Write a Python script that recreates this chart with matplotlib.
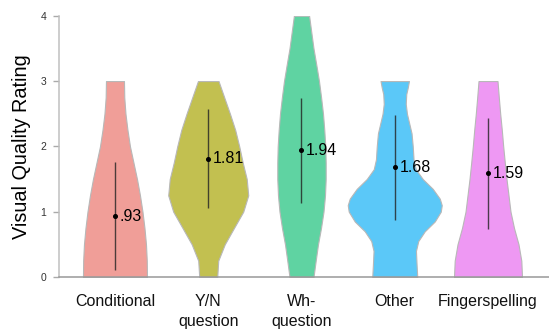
import numpy as np
import matplotlib
matplotlib.use("Agg")
import matplotlib.pyplot as plt

plt.rcParams['font.family'] = ['Liberation Sans', 'DejaVu Sans']

# Categories, means and standard deviations of the ratings
categories = ["Conditional", "Y/N\nquestion", "Wh-\nquestion", "Other", "Fingerspelling"]
means = [0.93, 1.81, 1.94, 1.68, 1.59]
sds = [0.83, 0.76, 0.80, 0.80, 0.85]
colors = ["#F09E98", "#C2C050", "#5FD3A2", "#5BC8F8", "#EE98F3"]

# Kernel density profiles (rating level -> relative density) for each category
cond_y = [0, 0.25, 0.5, 0.75, 1.0, 1.25, 1.5, 1.75, 2.0, 2.25, 2.5, 2.75, 3.0]
cond_d = [32, 31.8, 31, 29.5, 27.5, 25, 22, 18.5, 15, 12.5, 10.5, 9.3, 9]

yn_y = [0, 0.25, 0.5, 0.75, 1.0, 1.25, 1.5, 1.75, 2.0, 2.25, 2.5, 2.75, 3.0]
yn_d = [9, 10, 16.5, 25.7, 35, 40, 38.5, 34.5, 31, 27, 21.7, 16, 10.3]

wh_y = [0, 0.25, 0.5, 0.75, 1.0, 1.25, 1.5, 1.75, 2.0, 2.25, 2.5, 2.75, 3.0, 3.25, 3.5, 3.75, 4.0]
wh_d = [12, 14.2, 16.5, 19.5, 22, 23.5, 24.2, 24.2, 23.8, 22.8, 21.5, 19.6, 17.5, 14.8, 12, 9.8, 7.6]

oth_y = [0, 0.2, 0.4, 0.55, 0.7, 0.85, 1.0, 1.1, 1.2, 1.35, 1.5, 1.65, 1.8, 2.0, 2.2, 2.35, 2.5, 2.65, 2.8, 2.9, 3.0]
oth_d = [22.5, 21.8, 21.2, 23.5, 30, 40, 46, 47, 45, 38, 28, 21, 18.8, 18, 16.8, 14.5, 12.2, 11, 11.5, 13, 14.2]

fs_y = [0, 0.25, 0.5, 0.75, 1.0, 1.25, 1.5, 1.75, 2.0, 2.25, 2.5, 2.75, 3.0]
fs_d = [34, 33.3, 30.5, 26, 22.5, 20.5, 18.5, 16.8, 15.2, 13.8, 12.2, 10.8, 9.5]

profiles = [(cond_y, cond_d), (yn_y, yn_d), (wh_y, wh_d), (oth_y, oth_d), (fs_y, fs_d)]

y_ticks = [0, 1, 2, 3, 4]

fig = plt.figure(figsize=(5.49, 3.35), dpi=100)
ax = fig.add_axes([0.1075, 0.1731, 0.8925, 0.7799])

width_scale = 1 / 93.25
for i, ((ly, dens), col) in enumerate(zip(profiles, colors)):
    ly = np.asarray(ly, dtype=float)
    hw = np.asarray(dens, dtype=float) * width_scale
    ax.fill_betweenx(ly, i - hw, i + hw, facecolor=col, edgecolor="#b8b8b8",
                     linewidth=0.8, zorder=2)
    m, s = means[i], sds[i]
    ax.plot([i, i], [m - s, m + s], color="#222222", alpha=0.8, lw=1.0,
            solid_capstyle="butt", zorder=3)
    ax.plot(i, m, "o", color="black", markersize=2.6, zorder=4)
    label = f"{m:.2f}"
    if m < 1:
        label = label.lstrip("0")
    ax.text(i + 0.05, m, label, ha="left", va="center", fontsize=11.5,
            color="black", zorder=5)

ax.set_xlim(-0.6, 4.654)
ax.set_ylim(0, 4)
ax.set_yticks(y_ticks)
ax.set_yticklabels([str(t) for t in y_ticks])
ax.set_xticks(range(len(categories)))
ax.set_xticklabels(categories, fontsize=11.5, color="#111111", linespacing=1.45)

ax.tick_params(axis="x", length=0, pad=12)
ax.tick_params(axis="y", length=4, width=1, color="#aaaaaa", labelsize=7.5,
               labelcolor="#333333", pad=5)

for side in ["top", "right"]:
    ax.spines[side].set_visible(False)
ax.spines["left"].set_color("#c0c0c0")
ax.spines["left"].set_linewidth(1.1)
ax.spines["bottom"].set_color("#999999")
ax.spines["bottom"].set_linewidth(1.1)
ax.spines["bottom"].set_zorder(6)

ax.set_ylabel("Visual Quality Rating", fontsize=14.3, color="black")
ax.yaxis.set_label_coords(-0.057, 0.5)

fig.savefig("out.png", dpi=100)
